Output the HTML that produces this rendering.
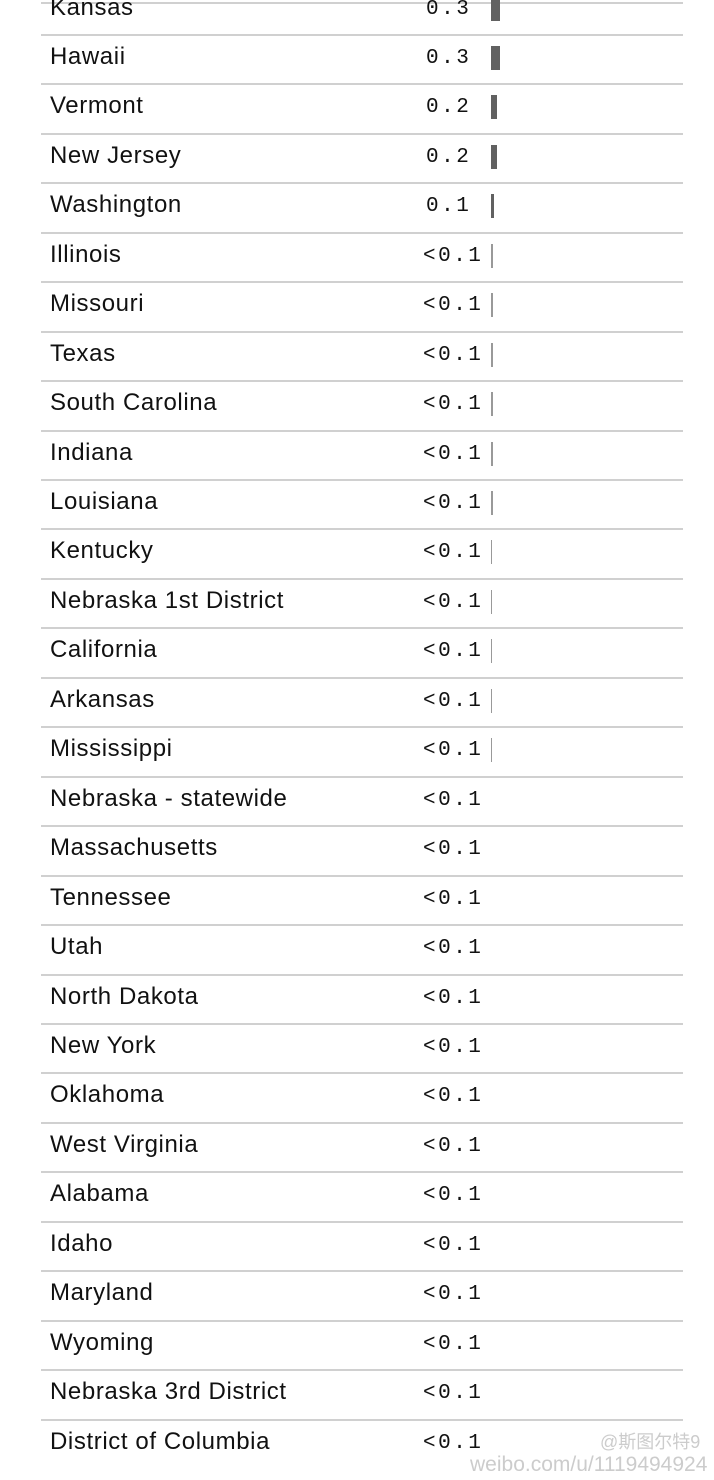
<!DOCTYPE html>
<html><head><meta charset="utf-8"><style>
body{margin:0;width:714px;height:1480px;background:#fff;overflow:hidden;position:relative;font-family:"Liberation Sans",sans-serif}
.sep{position:absolute;left:41px;width:642px;height:2px;background:#d0d0d0}
.name{position:absolute;left:50px;font-size:24px;color:#111;line-height:26px;letter-spacing:0.6px}
.val{position:absolute;left:425px;font-family:"Liberation Mono",monospace;font-size:21px;letter-spacing:2.5px;color:#111;line-height:26px}
.bar{position:absolute;left:491px;height:24px;background:#616161}
.wm{position:absolute;color:#ccc;font-size:20px;white-space:nowrap}
</style></head><body>
<div id="chart"></div>
<div class="wm" style="left:470px;top:1453px;font-size:21px">weibo.com/u/1119494924</div>
<div class="wm" style="left:600px;top:1428px;font-size:18px">@斯图尔特9</div>
<script>
const states=["Kansas","Hawaii","Vermont","New Jersey","Washington","Illinois","Missouri","Texas","South Carolina","Indiana","Louisiana","Kentucky","Nebraska 1st District","California","Arkansas","Mississippi","Nebraska - statewide","Massachusetts","Tennessee","Utah","North Dakota","New York","Oklahoma","West Virginia","Alabama","Idaho","Maryland","Wyoming","Nebraska 3rd District","District of Columbia"];
const labels=["0.3","0.3","0.2","0.2","0.1","<0.1","<0.1","<0.1","<0.1","<0.1","<0.1","<0.1","<0.1","<0.1","<0.1","<0.1","<0.1","<0.1","<0.1","<0.1","<0.1","<0.1","<0.1","<0.1","<0.1","<0.1","<0.1","<0.1","<0.1","<0.1"];
const values=[0.3,0.29,0.2,0.19,0.11,0.06,0.06,0.06,0.06,0.05,0.05,0.04,0.04,0.04,0.04,0.04,0,0,0,0,0,0,0,0,0,0,0,0,0,0];
const root=document.body;
const rowH=49.45, first=-15.5;
const xScale=v=>v*30;
const top0=document.createElement('div');top0.className='sep';top0.style.top='2px';


root.appendChild(top0);
states.forEach((s,i)=>{
  const y=first+i*rowH;
  const n=document.createElement('div');n.className='name';n.textContent=s;n.style.top=(y+10)+'px';
  
  
  root.appendChild(n);
  const v=document.createElement('div');v.className='val';v.textContent=labels[i];v.style.top=(y+12)+'px';
  if(labels[i][0]==='<'){v.style.left='423px';}else{v.style.left='426px';}
  
  
  root.appendChild(v);
  if(values[i]>0){
    const b=document.createElement('div');b.className='bar';
    const w=Math.max(1,xScale(values[i]));
    b.style.width=w+'px';b.style.top=(y+12)+'px';
    if(values[i]<0.1){b.style.background='#999';}
    
    
    root.appendChild(b);
  }
  if(i<states.length-1){
    const l=document.createElement('div');l.className='sep';l.style.top=(y+rowH)+'px';
    
    
    root.appendChild(l);
  }
});
</script>
</body></html>
